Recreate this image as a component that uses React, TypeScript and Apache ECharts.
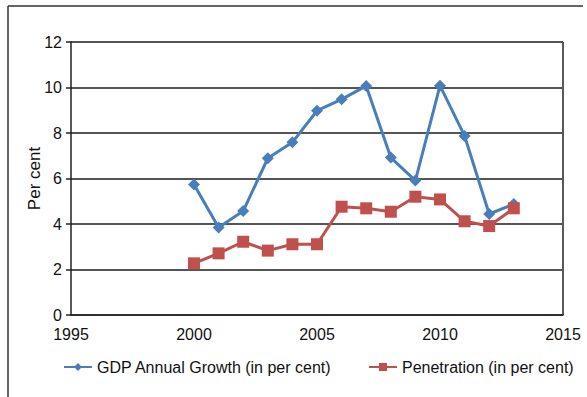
import React, { useEffect, useRef } from "react";
import * as echarts from "echarts";

const years = [2000, 2001, 2002, 2003, 2004, 2005, 2006, 2007, 2008, 2009, 2010, 2011, 2012, 2013];
const gdpGrowth = [5.74, 3.85, 4.57, 6.89, 7.59, 8.98, 9.48, 10.07, 6.92, 5.91, 10.08, 7.87, 4.44, 4.88];
const penetration = [2.27, 2.71, 3.22, 2.83, 3.11, 3.11, 4.76, 4.69, 4.54, 5.2, 5.08, 4.12, 3.91, 4.69];
const seriesNames = ["GDP Annual Growth (in per cent)", "Penetration (in per cent)"];

export default function App() {
  const ref = useRef<HTMLDivElement>(null);
  useEffect(() => {
    if (!ref.current) return;
    const chart = echarts.init(ref.current, null, { renderer: "svg" });
    const font = "'Liberation Sans', Arial, sans-serif";
    chart.setOption({
      animation: false,
      backgroundColor: "#fff",
      textStyle: { fontFamily: font },
      grid: { left: 71, right: 24, top: 42, bottom: 82, containLabel: false },
      xAxis: {
        type: "value",
        min: 1995,
        max: 2015,
        interval: 5,
        axisLine: { show: true, lineStyle: { color: "#222", width: 1.5 } },
        axisTick: { show: false },
        splitLine: { show: false },
        axisLabel: { color: "#111", fontSize: 16, margin: 11, fontFamily: font, formatter: (v: number) => String(v) },
      },
      yAxis: {
        type: "value",
        min: 0,
        max: 12,
        interval: 2,
        name: "Per cent",
        nameLocation: "middle",
        nameGap: 28,
        nameMoveOverlap: false,
        nameTextStyle: { color: "#111", fontSize: 17, fontFamily: font },
        axisLine: { show: true, lineStyle: { color: "#222", width: 1.5 } },
        axisTick: { show: true, length: 5, lineStyle: { color: "#222", width: 1.5 } },
        splitLine: { show: true, lineStyle: { color: "#555", width: 1.8 } },
        axisLabel: { color: "#111", fontSize: 16, margin: 9, fontFamily: font },
      },
      legend: [
        {
          data: [seriesNames[0]],
          left: 58,
          top: 354,
          itemWidth: 28,
          itemHeight: 10,
          textStyle: { color: "#111", fontSize: 16, fontFamily: font },
        },
        {
          data: [seriesNames[1]],
          left: 363,
          top: 354,
          itemWidth: 28,
          itemHeight: 10,
          textStyle: { color: "#111", fontSize: 16, fontFamily: font },
        },
      ],
      graphic: [
        { type: "line", shape: { x1: 8, y1: 6, x2: 583, y2: 6 }, style: { stroke: "#333", lineWidth: 1.5 } },
        { type: "line", shape: { x1: 8, y1: 6, x2: 8, y2: 397 }, style: { stroke: "#333", lineWidth: 1.5 } },
        { type: "line", shape: { x1: 563, y1: 42, x2: 563, y2: 315 }, style: { stroke: "#222", lineWidth: 1.5 } },
      ],
      series: [
        {
          name: seriesNames[0],
          type: "line",
          data: years.map((y, i) => [y, gdpGrowth[i]]),
          color: "#4A7EBB",
          lineStyle: { width: 3, color: "#4A7EBB" },
          symbol: "diamond",
          symbolSize: 12,
          itemStyle: { color: "#4A7EBB" },
        },
        {
          name: seriesNames[1],
          type: "line",
          data: years.map((y, i) => [y, penetration[i]]),
          color: "#C0504D",
          lineStyle: { width: 3, color: "#C0504D" },
          symbol: "rect",
          symbolSize: 12,
          itemStyle: { color: "#C0504D" },
        },
      ],
    });
    return () => chart.dispose();
  }, []);
  return <div ref={ref} style={{ width: 587, height: 397, position: "absolute", left: 0, top: 0 }} />;
}
